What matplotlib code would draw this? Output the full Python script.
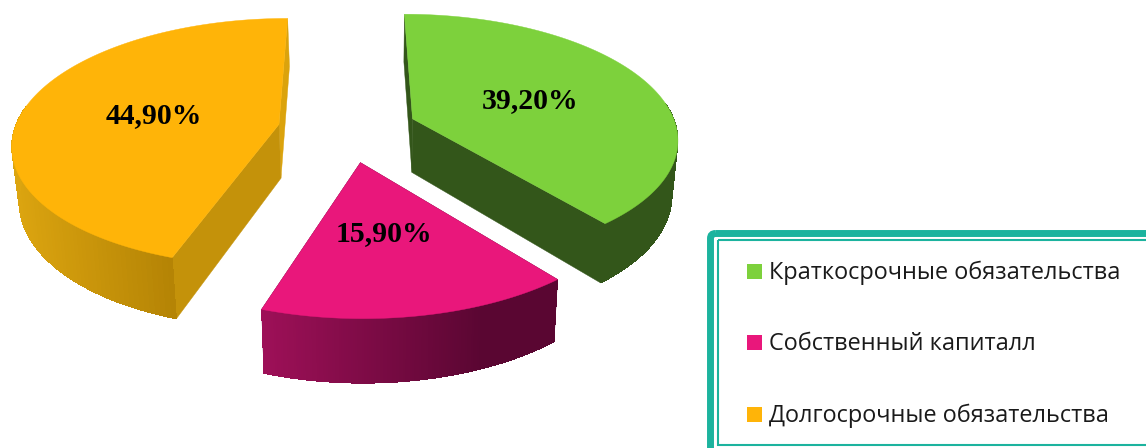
import numpy as np
import matplotlib
matplotlib.use("Agg")
import matplotlib.pyplot as plt
from matplotlib.collections import PolyCollection
from matplotlib.colors import to_rgb
from matplotlib.patches import FancyBboxPatch, Polygon, Rectangle

categories = ["Краткосрочные обязательства", "Собственный капиталл", "Долгосрочные обязательства"]
values = [39.2, 15.9, 44.9]
labels = ["39,20%", "15,90%", "44,90%"]

top_colors = ["#7DD13C", "#E9177B", "#FFB408"]
wall_colors = ["#33561A", "#5A0632", "#C4920A"]
back_wall_colors = ["#33561A", "#5A0632", "#DBA30C"]
side_left = ["#33561A", "#9E1058", "#DCA510"]
side_right = ["#33561A", "#5A0632", "#B58405"]
side_stop = [1.0, 0.75, 1.0]
label_pos = [(530.5, 101), (384, 234), (154, 116)]
legend_y = [273, 344, 416]

# projection of the exploded pie, fitted by eye
CX, CY = 347.5, 129.5
RX, RY = 264.5, 122.7
PERSP = 0.145
EXPLODE = 0.264


def project(u, v):
    d = 1 + PERSP * v
    return CX + RX * u / d, CY - RY * v / d


def drop(x, y):
    # bottom face: moved down and pulled slightly toward the middle
    return 380 + (x - 380) * 0.98, y * 1.055 + 47


fig = plt.figure(figsize=(11.46, 4.48), dpi=100)
ax = fig.add_axes([0, 0, 1, 1])
ax.set_xlim(0, 1146)
ax.set_ylim(448, 0)
ax.axis("off")

edges = np.cumsum([0] + values) / sum(values) * 2 * np.pi
for i in range(3):
    a0, a1 = edges[i], edges[i + 1]
    mid = (a0 + a1) / 2
    u0, v0 = EXPLODE * np.sin(mid), EXPLODE * np.cos(mid)
    t = np.linspace(a0, a1, 140)
    x, y = project(u0 + np.sin(t), v0 + np.cos(t))
    xb, yb = drop(x, y)
    ax_, ay_ = project(u0, v0)
    axb, ayb = drop(ax_, ay_)

    # straight walls, the one at the far end of the slice is only a thin strip
    wall_start = [(ax_, ay_), (x[0], y[0]), (xb[0], yb[0]), (axb, ayb)]
    wall_end = [(ax_, ay_), (x[-1], y[-1]), (xb[-1], yb[-1]), (axb, ayb)]
    ax.add_patch(Polygon(wall_end, facecolor=back_wall_colors[i], edgecolor=back_wall_colors[i], lw=0.3, zorder=2))
    ax.add_patch(Polygon(wall_start, facecolor=wall_colors[i], edgecolor=wall_colors[i], lw=0.3, zorder=2))

    # outer side, front part only: plain shape for a soft outline, shaded strips on top
    front = np.cos(t) < 0.15
    xs, ys, xsb, ysb = x[front], y[front], xb[front], yb[front]
    c0, c1 = np.array(to_rgb(side_left[i])), np.array(to_rgb(side_right[i]))
    outline = list(zip(xs, ys)) + list(zip(xsb[::-1], ysb[::-1]))
    ax.add_patch(Polygon(outline, facecolor=(c0 + c1) / 2, edgecolor="none", zorder=3))
    quads, cols = [], []
    for j in range(len(xs) - 1):
        quads.append([(xs[j], ys[j]), (xs[j + 1], ys[j + 1]), (xsb[j + 1], ysb[j + 1]), (xsb[j], ysb[j])])
        f = (xs[j] - xs.min()) / (xs.max() - xs.min())
        cols.append(c0 + (c1 - c0) * min(f / side_stop[i], 1))
    ax.add_collection(PolyCollection(quads, facecolors=cols, edgecolors="none", linewidths=0,
                                     antialiaseds=False, zorder=3))

    top = [(ax_, ay_)] + list(zip(x, y))
    ax.add_patch(Polygon(top, facecolor=top_colors[i], edgecolor=top_colors[i], lw=0.3, zorder=4))
    ax.text(label_pos[i][0], label_pos[i][1], labels[i], family="Liberation Serif", weight="bold",
            fontsize=21.4, ha="center", va="center", color="black", zorder=5)

# legend frame runs off the canvas on the right and at the bottom
ax.add_patch(FancyBboxPatch((710.5, 233.5), 600, 400, boxstyle="round,pad=0,rounding_size=5",
                            facecolor="none", edgecolor="#1CB39E", lw=5, zorder=1))
ax.add_patch(Rectangle((718, 240), 600, 205, facecolor="none", edgecolor="#1CB39E", lw=1.5, zorder=1))

for i in range(3):
    ax.add_patch(Rectangle((747, legend_y[i] - 9), 15, 15, facecolor=top_colors[i], edgecolor="none", zorder=5))
    ax.text(769, legend_y[i], categories[i], family="Open Sans", fontsize=16.9, color="#1A1A1A",
            ha="left", va="center", zorder=5)

fig.savefig("out.png", dpi=100)
plt.close(fig)
